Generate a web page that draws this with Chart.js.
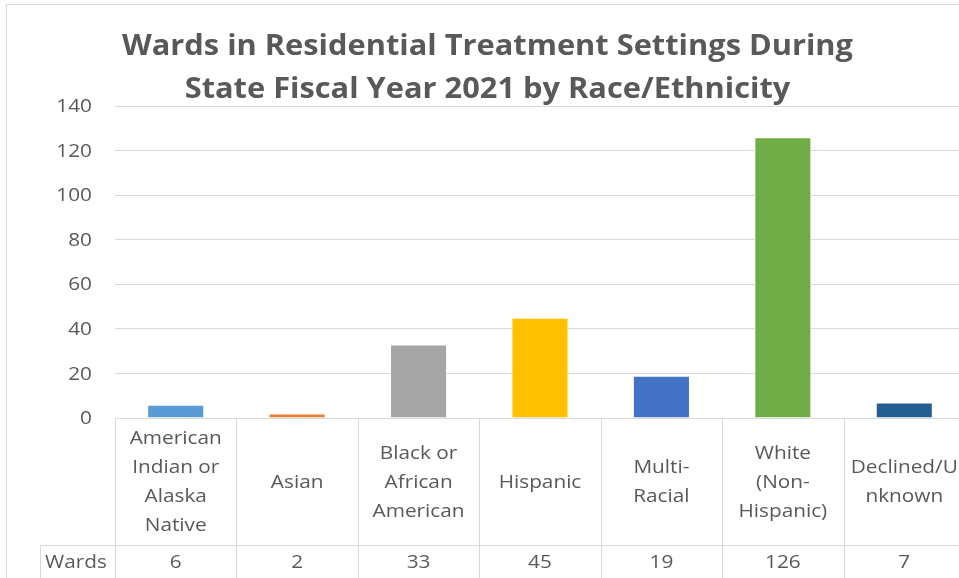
<!DOCTYPE html>
<html>
<head>
<meta charset="utf-8">
<script src="https://cdn.jsdelivr.net/npm/chart.js@4/dist/chart.umd.min.js"></script>
<style>
  html, body { margin: 0; padding: 0; background: #fff; }
  #wrap { width: 959px; height: 578px; overflow: hidden; position: relative; }
  #chart { position: absolute; left: 0; top: 0; }
</style>
</head>
<body>
<div id="wrap"><canvas id="chart" width="970" height="590"></canvas></div>
<script>
// chart data
const titleLines = ["Wards in Residential Treatment Settings During", "State Fiscal Year 2021 by Race/Ethnicity"];
const categories = [
  ["American", "Indian or", "Alaska", "Native"],
  ["Asian"],
  ["Black or", "African", "American"],
  ["Hispanic"],
  ["Multi-", "Racial"],
  ["White", "(Non-", "Hispanic)"],
  ["Declined/U", "nknown"]
];
const seriesName = "Wards";
const wards = [6, 2, 33, 45, 19, 126, 7];
const barColors = ["#5B9BD5", "#ED7D31", "#A5A5A5", "#FFC000", "#4472C4", "#70AD47", "#255E91"];
const yTicks = [0, 20, 40, 60, 80, 100, 120, 140];

const textColor = "#595959";
const lineColor = "#d9d9d9";
const fontFam = "'Open Sans', Lato, sans-serif";
const bodyFont = "18px " + fontFam;
const titleFont = "bold 28px " + fontFam;

// the original text is wider than anything installed, so stretch it sideways
let bodyStretch = 1, titleStretch = 1;
function stretchText(ctx, text, x, y, sx) {
  ctx.save();
  ctx.translate(x, y);
  ctx.scale(sx, 1);
  ctx.fillText(text, 0, 0);
  ctx.restore();
}

const frameTitle = {
  id: "frameTitle",
  beforeDraw(chart) {
    const ctx = chart.ctx;
    ctx.save();
    ctx.fillStyle = "#fff";
    ctx.fillRect(0, 0, chart.width, chart.height);
    ctx.strokeStyle = lineColor;
    ctx.lineWidth = 1;
    ctx.strokeRect(6.5, 4.5, chart.width + 20, chart.height + 20);
    ctx.font = bodyFont;
    bodyStretch = 92 / ctx.measureText("American").width;
    ctx.font = titleFont;
    titleStretch = 731 / ctx.measureText(titleLines[0]).width;
    ctx.restore();
  },
  afterDraw(chart) {
    const ctx = chart.ctx;
    ctx.save();
    ctx.fillStyle = textColor;
    ctx.font = titleFont;
    ctx.textAlign = "center";
    ctx.textBaseline = "alphabetic";
    stretchText(ctx, titleLines[0], 487.5, 55, titleStretch);
    stretchText(ctx, titleLines[1], 487.5, 98, titleStretch);

    // y tick labels, placed by the y scale
    const ys = chart.scales.y;
    ctx.font = bodyFont;
    ctx.textAlign = "right";
    ctx.textBaseline = "middle";
    ys.ticks.forEach(t => stretchText(ctx, String(t.value), 92, ys.getPixelForValue(t.value) + 1, bodyStretch));
    ctx.restore();
  }
};

// excel style data table under the plot
const dataTable = {
  id: "dataTable",
  afterDraw(chart) {
    const ctx = chart.ctx;
    const xs = chart.scales.x;
    const area = chart.chartArea;
    const top = area.bottom;
    const rowY = top + 127;
    const bottom = chart.height;
    const half = (xs.getPixelForValue(1) - xs.getPixelForValue(0)) / 2;
    ctx.save();
    ctx.strokeStyle = lineColor;
    ctx.lineWidth = 1;
    ctx.beginPath();
    ctx.moveTo(area.left, Math.round(top) + 0.5);
    ctx.lineTo(chart.width, Math.round(top) + 0.5);
    ctx.moveTo(40, rowY + 0.5);
    ctx.lineTo(chart.width, rowY + 0.5);
    ctx.moveTo(40.5, rowY);
    ctx.lineTo(40.5, bottom);
    for (let i = 0; i <= categories.length; i++) {
      const x = Math.round(xs.getPixelForValue(i) - half) + 0.5;
      ctx.moveTo(x, top);
      ctx.lineTo(x, bottom);
    }
    ctx.stroke();

    ctx.fillStyle = textColor;
    ctx.font = bodyFont;
    ctx.textAlign = "center";
    ctx.textBaseline = "middle";
    const lh = 29;
    categories.forEach((lines, i) => {
      const cx = xs.getPixelForValue(i);
      const mid = (top + rowY) / 2 + 1;
      const y0 = mid - (lines.length - 1) * lh / 2;
      lines.forEach((t, j) => stretchText(ctx, t, cx, y0 + j * lh, bodyStretch));
      stretchText(ctx, String(wards[i]), cx, rowY + 18, bodyStretch);
    });
    stretchText(ctx, seriesName, 76, rowY + 18, bodyStretch);
    ctx.restore();
  }
};

new Chart(document.getElementById("chart"), {
  type: "bar",
  data: {
    labels: categories.map(c => c.join(" ")),
    datasets: [{
      label: seriesName,
      data: wards,
      backgroundColor: barColors,
      borderColor: "#ffffff",
      borderWidth: 1,
      barPercentage: 0.47,
      categoryPercentage: 1
    }]
  },
  options: {
    responsive: false,
    animation: false,
    devicePixelRatio: 1,
    layout: { padding: { top: 106, bottom: 172, left: 0, right: 5 } },
    plugins: {
      legend: { display: false },
      title: { display: false },
      tooltip: { enabled: false }
    },
    scales: {
      x: { display: false },
      y: {
        min: 0,
        max: 140,
        afterFit(scale) { scale.width = 115; },
        afterBuildTicks(scale) { scale.ticks = yTicks.map(v => ({ value: v })); },
        border: { display: false },
        grid: { color: lineColor, lineWidth: 1, drawTicks: false },
        ticks: { display: false }
      }
    }
  },
  plugins: [frameTitle, dataTable]
});
</script>
</body>
</html>
